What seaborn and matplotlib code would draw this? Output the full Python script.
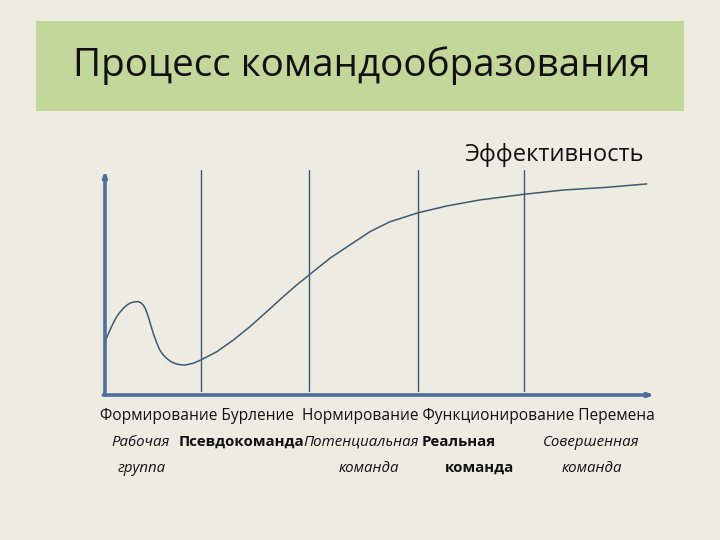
import matplotlib
matplotlib.use("Agg")
import matplotlib.pyplot as plt
import matplotlib.patches as mpatches
import pandas as pd
import seaborn as sns

# Curve "Эффективность" (x: stage axis, y: effectiveness 0..100)
stage_x = [0.00, 0.05, 0.083, 0.117, 0.15, 0.183, 0.217, 0.25, 0.283, 0.333,
           0.358, 0.383, 0.408, 0.433, 0.458, 0.483, 0.508, 0.533, 0.55, 0.583,
           0.617, 0.65, 0.683, 0.717, 0.76, 0.80, 0.883, 0.96, 1.117, 1.283,
           1.45, 1.617, 1.783, 1.917, 2.04, 2.25, 2.45, 2.65, 2.85, 3.133,
           3.417, 3.75, 4.19, 4.583, 5.017, 5.417]
effect_y = [23.7, 28.9, 32.0, 34.8, 36.8, 38.5, 39.9, 40.8, 41.3, 41.5,
            41.0, 40.0, 38.0, 34.8, 31.0, 27.4, 24.3, 21.5, 19.8, 17.8,
            16.3, 15.1, 14.3, 13.8, 13.4, 13.3, 14.1, 15.6, 19.2, 24.4,
            30.4, 37.0, 43.7, 48.9, 53.3, 60.8, 66.7, 72.6, 77.0, 81.0,
            84.0, 86.7, 89.2, 91.1, 92.3, 93.8]
boundaries = [0.96, 2.04, 3.13, 4.19]

title = "Процесс командообразования"
y_label = "Эффективность"
stages_line = "Формирование Бурление  Нормирование Функционирование Перемена"
team_top = ["Рабочая", "Псевдокоманда", "Потенциальная", "Реальная", "Совершенная"]
team_bottom = ["группа", "", "команда", "команда", "команда"]
team_bold = [False, True, False, True, False]

BG = "#EEECE2"
BOX = "#C4D79B"
AXIS = "#4F6F9C"
LINE = "#3D5A72"

sns.set_style("white")
plt.rcParams["font.family"] = ["Open Sans", "DejaVu Sans"]

fig = plt.figure(figsize=(7.2, 5.4), dpi=100, facecolor=BG)

# title box
fig.patches.append(mpatches.Rectangle((0.05, 0.7944), 0.9, 0.1667,
                                      transform=fig.transFigure,
                                      facecolor=BOX, edgecolor="none", zorder=0))
fig.text(0.502, 0.878, title, fontsize=27.8, ha="center", va="center", color="#111111")

ax = fig.add_axes([0.1458, 0.2685, 0.7639, 0.4167])
ax.set_facecolor("none")

df = pd.DataFrame({"stage": stage_x, "effect": effect_y})
sns.lineplot(data=df, x="stage", y="effect", color=LINE, lw=1.1, ax=ax, sort=False)
for b in boundaries:
    ax.axvline(b, ymin=0.02, ymax=1.0, color=LINE, lw=1.0)

ax.set_xlim(0, 5.5)
ax.set_ylim(0, 100)
for s in ax.spines.values():
    s.set_visible(False)
ax.set_xticks([])
ax.set_yticks([])
ax.set_xlabel("")
ax.set_ylabel("")

# axis arrows
arrow = dict(arrowstyle="-|>,head_length=0.3,head_width=0.1", color=AXIS, lw=2.6,
             shrinkA=0, shrinkB=0)
ax.annotate("", xy=(0, 1.0), xytext=(0, 0), xycoords="axes fraction",
            textcoords="axes fraction", arrowprops=arrow, annotation_clip=False)
ax.annotate("", xy=(1.0, 0), xytext=(-0.003, 0), xycoords="axes fraction",
            textcoords="axes fraction", arrowprops=arrow, annotation_clip=False)

fig.text(0.769, 0.713, y_label, fontsize=17, ha="center", va="center", color="#111111")

# stage labels under the chart
fig.text(0.5236, 0.2296, stages_line, fontsize=11.2, ha="center", va="center", color="#111111")
top_x = [141, 241, 361, 459, 591]
bottom_x = [142, 0, 369, 479, 592]
for i in range(len(team_top)):
    weight = "bold" if team_bold[i] else "normal"
    style = "normal" if team_bold[i] else "italic"
    fig.text(top_x[i] / 720, 1 - 442 / 540, team_top[i], fontsize=10.8, ha="center",
             va="center", fontweight=weight, fontstyle=style, color="#111111")
    if team_bottom[i]:
        fig.text(bottom_x[i] / 720, 1 - 468 / 540, team_bottom[i], fontsize=10.8,
                 ha="center", va="center", fontweight=weight, fontstyle=style,
                 color="#111111")

fig.savefig("out.png", dpi=100, facecolor=BG)
